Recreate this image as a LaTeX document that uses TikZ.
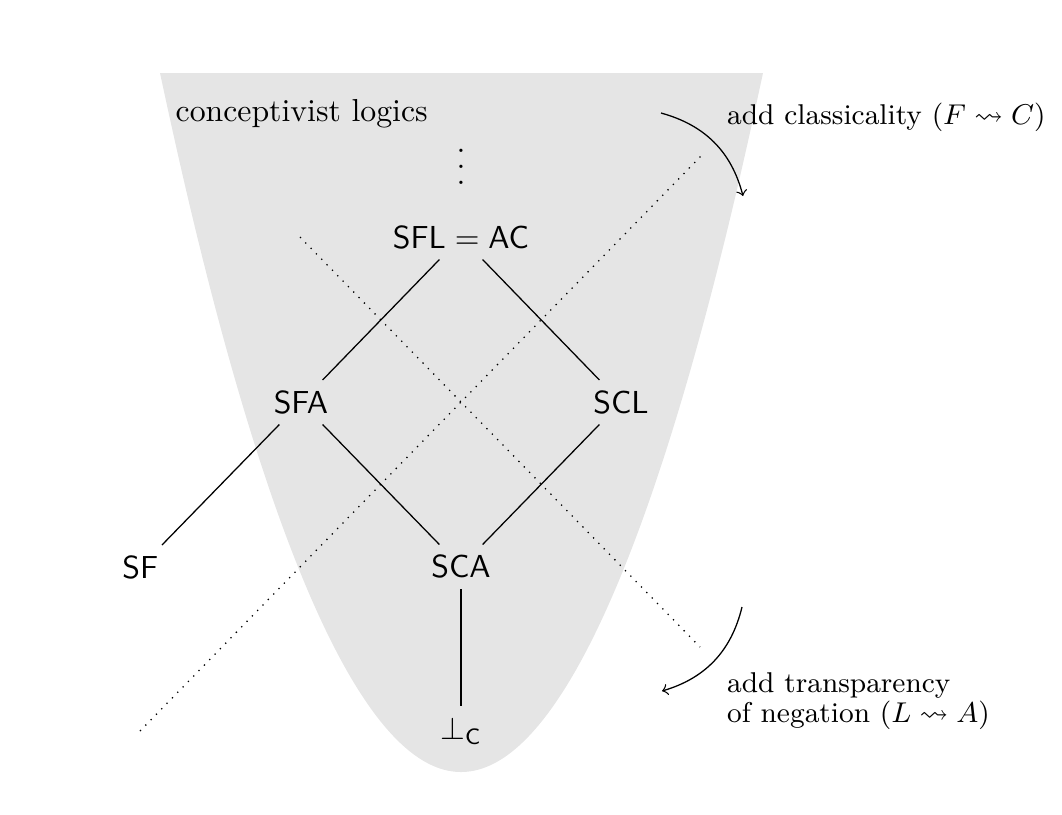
\documentclass[tikz,border=0pt]{standalone}
\usepackage{amssymb}
\newcommand\myvdots{\vbox{\baselineskip5pt\lineskiplimit0pt\hbox{.}\hbox{.}\hbox{.}}}
\begin{document}
\begin{tikzpicture}[x=0.3145pt,y=-0.3145pt,
  logic/.style={anchor=base},
  lbl/.style={anchor=base west,inner sep=0pt,font=\small},
  dotline/.style={dotted},
  hint/.style={->,bend left=30}]
\useasboundingbox (0,0) rectangle (1062,814);
\fill[black!10] (160,73) parabola bend (461,772) (763,73) -- cycle;
\node[anchor=base west,inner sep=0pt] (title) at (175,121.7) {conceptivist logics};
\node (dots) at (461,166.7) {\myvdots};
\node[logic] (sfl) at (461,248.3) {$\mathsf{SFL}=\mathsf{AC}$};
\node[logic] (sfa) at (301,413.3) {$\mathsf{SFA}$};
\node[logic] (scl) at (621,413.3) {$\mathsf{SCL}$};
\node[logic] (sf) at (140.3,578.3) {$\mathsf{SF}$};
\node[logic] (sca) at (461,577.8) {$\mathsf{SCA}$};
\node[logic] (bot) at (461,739.5) {$\bot_{\mathsf{C}}$};
\draw (sfl) -- (sfa);
\draw (sfl) -- (scl);
\draw (sfa) -- (sf);
\draw (sfa) -- (sca);
\draw (scl) -- (sca);
\draw (sca) -- (bot);
\coordinate (d1a) at (140,731);
\coordinate (d1b) at (702,155);
\coordinate (d2a) at (300,237);
\coordinate (d2b) at (700,647);
\draw[dotline] (d1a) -- (d1b);
\draw[dotline] (d2a) -- (d2b);
\coordinate (a1s) at (661,113);
\coordinate (a1e) at (743,196);
\coordinate (a2s) at (742,607);
\coordinate (a2e) at (662,691);
\draw[hint] (a1s) to (a1e);
\draw[hint] (a2s) to (a2e);
\node[lbl] (cls) at (726.5,124.5) {add classicality ($F\leadsto C$)};
\node[lbl,anchor=north west,align=left] (trn) at (726.5,671.8) {add transparency\\[-1.6pt]of negation ($L\leadsto A$)};
\end{tikzpicture}
\end{document}
